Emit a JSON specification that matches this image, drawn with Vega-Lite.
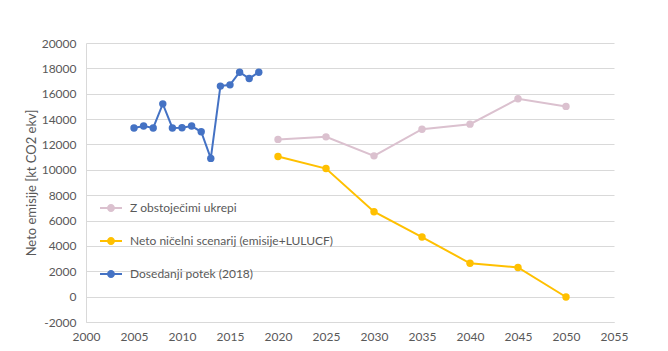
{
  "$schema": "https://vega.github.io/schema/vega-lite/v6.json",
  "autosize": {"type": "none"},
  "padding": {"left": 86, "top": 43, "right": 54, "bottom": 29},
  "width": 528,
  "height": 279,
  "background": "white",
  "config": {
    "view": {"stroke": null},
    "font": "Lato",
    "axis": {"labelFont": "Lato", "titleFont": "Lato", "labelColor": "#595959", "titleColor": "#595959", "labelFontSize": 12, "titleFontSize": 13, "titleFontWeight": "normal"}
  },
  "data": {
    "values": [
      {"series": "Dosedanji potek (2018)", "year": 2005, "value": 13300},
      {"series": "Dosedanji potek (2018)", "year": 2006, "value": 13450},
      {"series": "Dosedanji potek (2018)", "year": 2007, "value": 13300},
      {"series": "Dosedanji potek (2018)", "year": 2008, "value": 15200},
      {"series": "Dosedanji potek (2018)", "year": 2009, "value": 13300},
      {"series": "Dosedanji potek (2018)", "year": 2010, "value": 13320},
      {"series": "Dosedanji potek (2018)", "year": 2011, "value": 13450},
      {"series": "Dosedanji potek (2018)", "year": 2012, "value": 13000},
      {"series": "Dosedanji potek (2018)", "year": 2013, "value": 10900},
      {"series": "Dosedanji potek (2018)", "year": 2014, "value": 16600},
      {"series": "Dosedanji potek (2018)", "year": 2015, "value": 16700},
      {"series": "Dosedanji potek (2018)", "year": 2016, "value": 17700},
      {"series": "Dosedanji potek (2018)", "year": 2017, "value": 17200},
      {"series": "Dosedanji potek (2018)", "year": 2018, "value": 17700},
      {"series": "Z obstoječimi ukrepi", "year": 2020, "value": 12400},
      {"series": "Z obstoječimi ukrepi", "year": 2025, "value": 12600},
      {"series": "Z obstoječimi ukrepi", "year": 2030, "value": 11100},
      {"series": "Z obstoječimi ukrepi", "year": 2035, "value": 13200},
      {"series": "Z obstoječimi ukrepi", "year": 2040, "value": 13600},
      {"series": "Z obstoječimi ukrepi", "year": 2045, "value": 15600},
      {"series": "Z obstoječimi ukrepi", "year": 2050, "value": 15000},
      {"series": "Neto ničelni scenarij (emisije+LULUCF)", "year": 2020, "value": 11050},
      {"series": "Neto ničelni scenarij (emisije+LULUCF)", "year": 2025, "value": 10100},
      {"series": "Neto ničelni scenarij (emisije+LULUCF)", "year": 2030, "value": 6700},
      {"series": "Neto ničelni scenarij (emisije+LULUCF)", "year": 2035, "value": 4700},
      {"series": "Neto ničelni scenarij (emisije+LULUCF)", "year": 2040, "value": 2630},
      {"series": "Neto ničelni scenarij (emisije+LULUCF)", "year": 2045, "value": 2300},
      {"series": "Neto ničelni scenarij (emisije+LULUCF)", "year": 2050, "value": -30}
    ]
  },
  "encoding": {
    "x": {
      "field": "year", "type": "quantitative",
      "scale": {"domain": [2000, 2055], "nice": false, "zero": false},
      "axis": {"title": null, "grid": false, "ticks": false, "values": [2000, 2005, 2010, 2015, 2020, 2025, 2030, 2035, 2040, 2045, 2050, 2055], "format": "d", "labelPadding": 9, "domainColor": "#D9D9D9", "labelFlush": false}
    },
    "y": {
      "field": "value", "type": "quantitative",
      "scale": {"domain": [-2000, 20000], "nice": false},
      "axis": {"title": "Neto emisije [kt CO2 ekv]", "values": [-2000, 0, 2000, 4000, 6000, 8000, 10000, 12000, 14000, 16000, 18000, 20000], "labelExpr": "datum.value < 0 ? '-' + abs(datum.value) : '' + datum.value", "ticks": false, "gridColor": "#D9D9D9", "gridWidth": 1, "domainColor": "#D9D9D9", "labelPadding": 10, "titlePadding": 3}
    },
    "color": {
      "field": "series", "type": "nominal",
      "scale": {
        "domain": ["Z obstoječimi ukrepi", "Neto ničelni scenarij (emisije+LULUCF)", "Dosedanji potek (2018)"],
        "range": ["#DBC1CF", "#FFC000", "#4472C4"]
      },
      "legend": {
        "title": null,
        "orient": "none",
        "legendX": 14,
        "legendY": 154,
        "padding": 0,
        "symbolType": "M-1,-0.09H1V0.09H-1Z M0.36,0 A0.36,0.36 0 1,1 -0.36,0 A0.36,0.36 0 1,1 0.36,0Z",
        "symbolSize": 484,
        "symbolStrokeWidth": 0,
        "symbolOpacity": 1,
        "labelFont": "Lato",
        "labelFontSize": 12,
        "labelColor": "#595959",
        "labelOffset": 8,
        "labelLimit": 400,
        "rowPadding": 16
      }
    }
  },
  "layer": [
    {
      "mark": {"type": "line", "strokeWidth": 2}
    },
    {
      "mark": {"type": "point", "filled": true, "size": 55, "opacity": 1}
    }
  ]
}
